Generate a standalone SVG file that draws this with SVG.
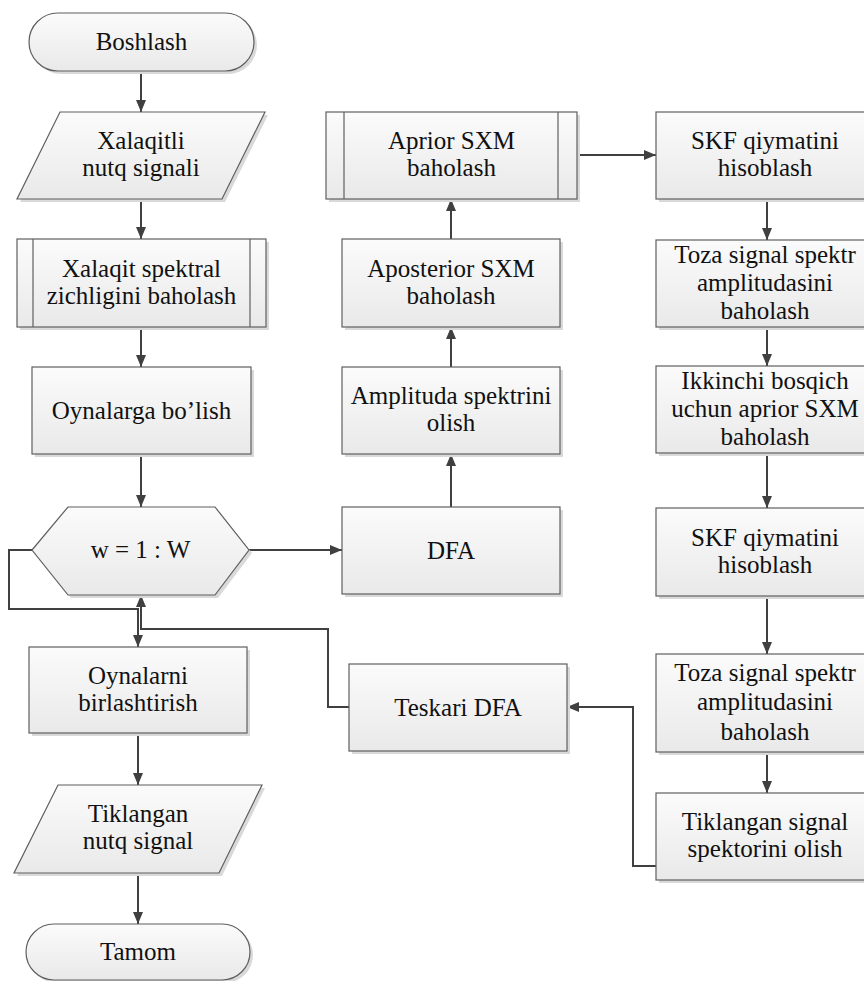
<svg xmlns="http://www.w3.org/2000/svg" width="864" height="981" viewBox="0 0 864 981">
  <defs>
    <linearGradient id="fillGrad" x1="0" y1="0" x2="0" y2="1">
      <stop offset="0" stop-color="#fbfbfb"/>
      <stop offset="1" stop-color="#e9e9e9"/>
    </linearGradient>
    <marker id="arrow" viewBox="0 0 12 10" refX="12" refY="5" markerWidth="12" markerHeight="10" markerUnits="userSpaceOnUse" orient="auto">
      <path d="M0,0 L12,5 L0,10 Z" fill="#404040"/>
    </marker>
    <style>
      .shape { fill: url(#fillGrad); stroke: #5f5f5f; stroke-width: 1.2; }
      .shadow { fill: #d9d9d9; stroke: none; }
      .inner { stroke: #5f5f5f; stroke-width: 1.2; fill: none; }
      .label { font-family: "Liberation Serif", serif; font-size: 25px; fill: #111; text-anchor: middle; }
      .conn { fill: none; stroke: #404040; stroke-width: 2; marker-end: url(#arrow); }
    </style>
  </defs>

  <rect width="864" height="981" fill="#ffffff"/>

  <!-- connectors -->
  <g id="connectors">
    <path class="conn" d="M141,71 V112"/>
    <path class="conn" d="M141,199 V239"/>
    <path class="conn" d="M141,327 V367"/>
    <path class="conn" d="M141,454 V507"/>
    <path class="conn" d="M249,550 H342"/>
    <path class="conn" d="M451,507 V454"/>
    <path class="conn" d="M451,367 V327"/>
    <path class="conn" d="M451,239 V199"/>
    <path class="conn" d="M577,155 H656"/>
    <path class="conn" d="M767,199 V240"/>
    <path class="conn" d="M767,327 V366"/>
    <path class="conn" d="M767,453 V508"/>
    <path class="conn" d="M767,596 V654"/>
    <path class="conn" d="M767,752 V793"/>
    <path class="conn" d="M656,866 H633 V707 H567"/>
    <path class="conn" d="M349,707 H328 V629 H141 V595"/>
    <path class="conn" d="M32,550 H9 V609 H138 V647"/>
    <path class="conn" d="M138,733 V785"/>
    <path class="conn" d="M138,873 V924"/>
  </g>

  <!-- start terminator -->
  <g id="start">
    <rect class="shadow" x="32" y="16" width="225" height="58" rx="29"/>
    <rect class="shape" x="29" y="13" width="225" height="58" rx="29"/>
    <text class="label" x="141.5" y="50">Boshlash</text>
  </g>

  <!-- noisy input -->
  <g id="input-noisy">
    <polygon class="shadow" points="63,115 268,115 225,202 20,202"/>
    <polygon class="shape" points="60,112 265,112 222,199 17,199"/>
    <text class="label" x="141" y="149">Xalaqitli</text>
    <text class="label" x="141" y="176">nutq signali</text>
  </g>

  <!-- noise spectral density -->
  <g id="noise-psd">
    <rect class="shadow" x="20" y="242" width="249" height="88"/>
    <rect class="shape" x="17" y="239" width="249" height="88"/>
    <line class="inner" x1="33" y1="239" x2="33" y2="327"/>
    <line class="inner" x1="250" y1="239" x2="250" y2="327"/>
    <text class="label" x="141.5" y="277">Xalaqit spektral</text>
    <text class="label" x="141.5" y="304">zichligini baholash</text>
  </g>

  <!-- framing -->
  <g id="framing">
    <rect class="shadow" x="35" y="370" width="219" height="87"/>
    <rect class="shape" x="32" y="367" width="219" height="87"/>
    <text class="label" x="141.5" y="419">Oynalarga bo’lish</text>
  </g>

  <!-- loop -->
  <g id="loop">
    <polygon class="shadow" points="35,553 71,510 218,510 252,553 218,598 71,598"/>
    <polygon class="shape" points="32,550 68,507 215,507 249,550 215,595 68,595"/>
    <text class="label" x="140.5" y="558">w = 1 : W</text>
  </g>

  <!-- overlap-add -->
  <g id="merge">
    <rect class="shadow" x="32" y="650" width="218" height="86"/>
    <rect class="shape" x="29" y="647" width="218" height="86"/>
    <text class="label" x="138" y="684">Oynalarni</text>
    <text class="label" x="138" y="711">birlashtirish</text>
  </g>

  <!-- restored output -->
  <g id="output-clean">
    <polygon class="shadow" points="61,788 265,788 222,876 17,876"/>
    <polygon class="shape" points="58,785 262,785 219,873 14,873"/>
    <text class="label" x="138" y="822">Tiklangan</text>
    <text class="label" x="138" y="849">nutq signal</text>
  </g>

  <!-- end terminator -->
  <g id="end">
    <rect class="shadow" x="29" y="927" width="224" height="56" rx="28"/>
    <rect class="shape" x="26" y="924" width="224" height="56" rx="28"/>
    <text class="label" x="138" y="960">Tamom</text>
  </g>

  <!-- DFT -->
  <g id="dft">
    <rect class="shadow" x="345" y="510" width="218" height="87"/>
    <rect class="shape" x="342" y="507" width="218" height="87"/>
    <text class="label" x="451" y="559">DFA</text>
  </g>

  <!-- magnitude spectrum -->
  <g id="amplitude">
    <rect class="shadow" x="345" y="370" width="218" height="87"/>
    <rect class="shape" x="342" y="367" width="218" height="87"/>
    <text class="label" x="451" y="404">Amplituda spektrini</text>
    <text class="label" x="451" y="431">olish</text>
  </g>

  <!-- a posteriori SNR -->
  <g id="aposterior">
    <rect class="shadow" x="345" y="242" width="218" height="88"/>
    <rect class="shape" x="342" y="239" width="218" height="88"/>
    <text class="label" x="451" y="277">Aposterior SXM</text>
    <text class="label" x="451" y="304">baholash</text>
  </g>

  <!-- a priori SNR -->
  <g id="aprior">
    <rect class="shadow" x="329" y="115" width="251" height="87"/>
    <rect class="shape" x="326" y="112" width="251" height="87"/>
    <line class="inner" x1="344" y1="112" x2="344" y2="199"/>
    <line class="inner" x1="558" y1="112" x2="558" y2="199"/>
    <text class="label" x="451.5" y="149">Aprior SXM</text>
    <text class="label" x="451.5" y="176">baholash</text>
  </g>

  <!-- inverse DFT -->
  <g id="idft">
    <rect class="shadow" x="352" y="667" width="218" height="87"/>
    <rect class="shape" x="349" y="664" width="218" height="87"/>
    <text class="label" x="458" y="716">Teskari DFA</text>
  </g>

  <!-- right column -->
  <g id="gain-1">
    <rect class="shadow" x="659" y="115" width="218" height="87"/>
    <rect class="shape" x="656" y="112" width="218" height="87"/>
    <text class="label" x="765" y="149">SKF qiymatini</text>
    <text class="label" x="765" y="176">hisoblash</text>
  </g>

  <g id="clean-amp-1">
    <rect class="shadow" x="659" y="243" width="218" height="87"/>
    <rect class="shape" x="656" y="240" width="218" height="87"/>
    <text class="label" x="765" y="263">Toza signal spektr</text>
    <text class="label" x="765" y="291">amplitudasini</text>
    <text class="label" x="765" y="319">baholash</text>
  </g>

  <g id="second-prior">
    <rect class="shadow" x="659" y="369" width="218" height="87"/>
    <rect class="shape" x="656" y="366" width="218" height="87"/>
    <text class="label" x="765" y="389">Ikkinchi bosqich</text>
    <text class="label" x="765" y="417">uchun aprior SXM</text>
    <text class="label" x="765" y="445">baholash</text>
  </g>

  <g id="gain-2">
    <rect class="shadow" x="659" y="511" width="218" height="88"/>
    <rect class="shape" x="656" y="508" width="218" height="88"/>
    <text class="label" x="765" y="546">SKF qiymatini</text>
    <text class="label" x="765" y="573">hisoblash</text>
  </g>

  <g id="clean-amp-2">
    <rect class="shadow" x="659" y="657" width="218" height="98"/>
    <rect class="shape" x="656" y="654" width="218" height="98"/>
    <text class="label" x="765" y="681">Toza signal spektr</text>
    <text class="label" x="765" y="710">amplitudasini</text>
    <text class="label" x="765" y="740">baholash</text>
  </g>

  <g id="restored-spectrum">
    <rect class="shadow" x="659" y="796" width="218" height="87"/>
    <rect class="shape" x="656" y="793" width="218" height="87"/>
    <text class="label" x="765" y="830">Tiklangan signal</text>
    <text class="label" x="765" y="857">spektorini olish</text>
  </g>
</svg>
